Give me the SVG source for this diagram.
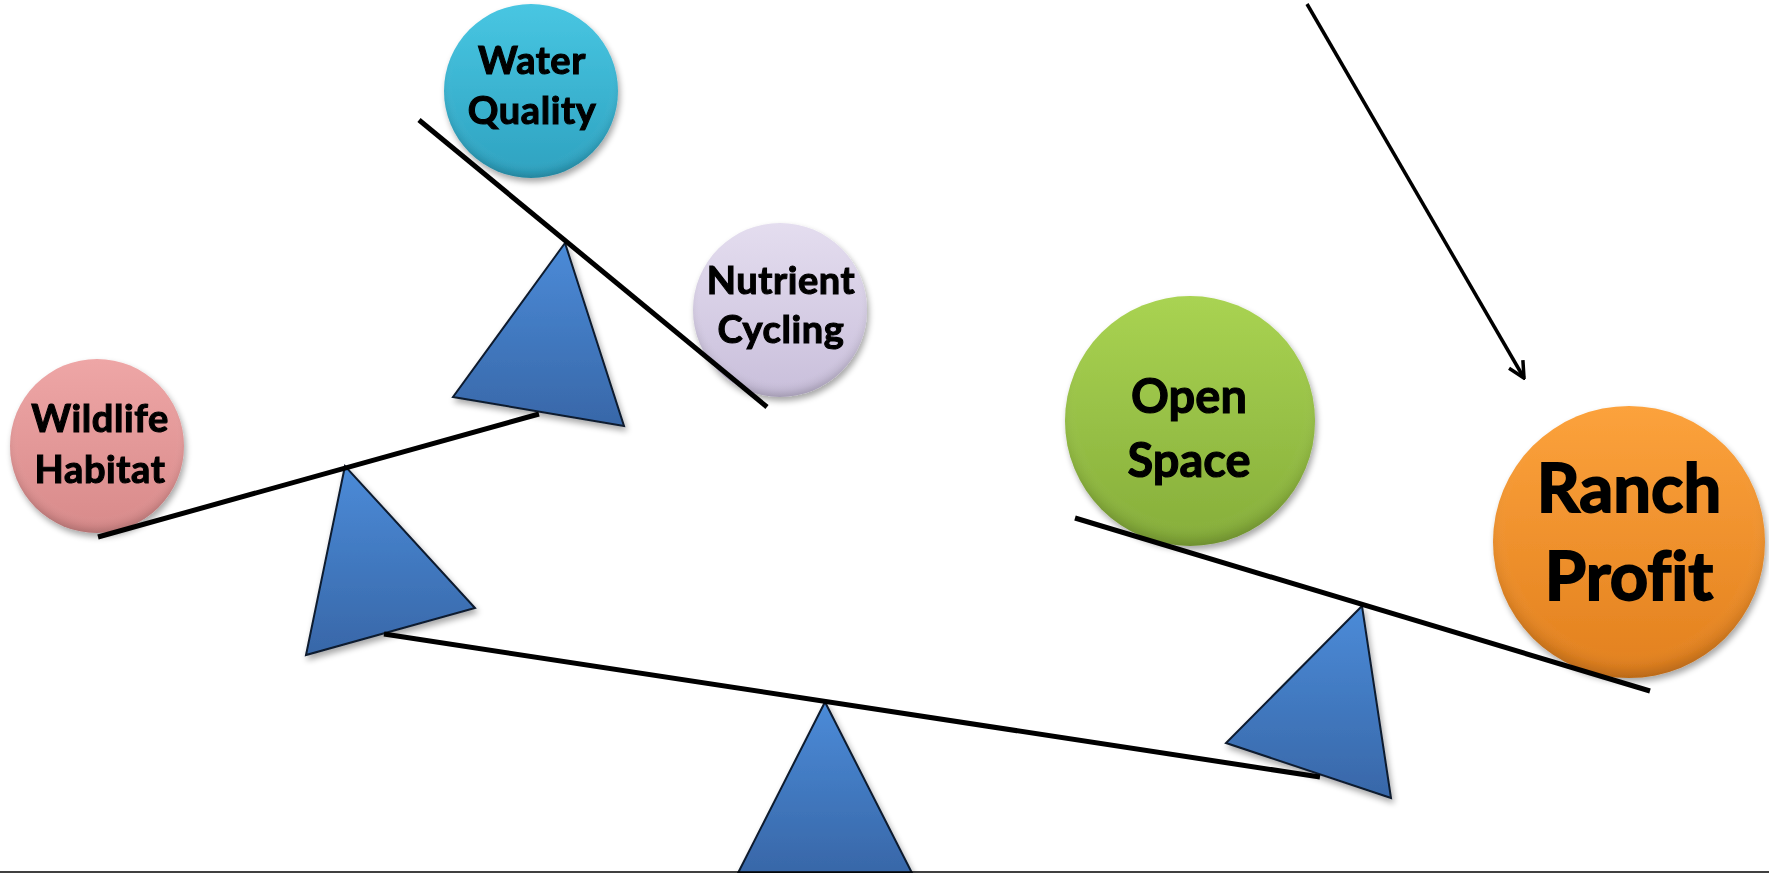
<svg xmlns="http://www.w3.org/2000/svg" width="1769" height="873" viewBox="0 0 1769 873">
<style>
.lbl{font-family:Lato,"Open Sans","Liberation Sans",sans-serif;font-weight:bold;fill:#000;stroke:#000;stroke-width:1.1;text-anchor:middle;font-variant-ligatures:none}
.sm{font-size:38px;letter-spacing:0.6px}
.big{stroke-width:1.8}
.beam{stroke:#000;stroke-width:5;fill:none}
.tri{stroke:#0d1a2e;stroke-width:2;stroke-linejoin:miter;fill:url(#gTri);filter:url(#sh)}
.btn{filter:url(#sh)}
</style>
<defs>
<filter id="sh" x="-20%" y="-20%" width="140%" height="140%">
<feGaussianBlur in="SourceAlpha" stdDeviation="3"/>
<feOffset dx="2" dy="4" result="b"/>
<feComponentTransfer><feFuncA type="linear" slope="0.35"/></feComponentTransfer>
<feMerge><feMergeNode/><feMergeNode in="SourceGraphic"/></feMerge>
</filter>
<linearGradient id="gTri" x1="0" y1="0" x2="0" y2="1"><stop offset="0" stop-color="#4b8bd8"/><stop offset="1" stop-color="#3867a8"/></linearGradient>
<linearGradient id="gW" x1="0" y1="0" x2="0" y2="1"><stop offset="0" stop-color="#48c6e2"/><stop offset="1" stop-color="#2ea2c0"/></linearGradient>
<linearGradient id="gN" x1="0" y1="0" x2="0" y2="1"><stop offset="0" stop-color="#e4ddef"/><stop offset="1" stop-color="#c9bfdb"/></linearGradient>
<linearGradient id="gH" x1="0" y1="0" x2="0" y2="1"><stop offset="0" stop-color="#eea6a6"/><stop offset="1" stop-color="#d88a8a"/></linearGradient>
<linearGradient id="gO" x1="0" y1="0" x2="0" y2="1"><stop offset="0" stop-color="#a9d352"/><stop offset="1" stop-color="#86ae3a"/></linearGradient>
<linearGradient id="gR" x1="0" y1="0" x2="0" y2="1"><stop offset="0" stop-color="#fca23c"/><stop offset="1" stop-color="#e2801e"/></linearGradient>
<radialGradient id="bevel" cx="0.5" cy="0.45" r="0.55"><stop offset="0.82" stop-color="#fff" stop-opacity="0"/><stop offset="0.93" stop-color="#000" stop-opacity="0.06"/><stop offset="1" stop-color="#000" stop-opacity="0.18"/></radialGradient>
<marker id="arr" viewBox="0 0 20 20" refX="18" refY="10" markerWidth="20" markerHeight="20" markerUnits="userSpaceOnUse" orient="auto">
<path d="M2,2 L18,10 L2,18" fill="none" stroke="#000" stroke-width="3.5"/>
</marker>
</defs>
<rect width="1769" height="873" fill="#fff"/>

<g id="water-quality" class="btn">
<circle cx="531" cy="91" r="87" fill="url(#gW)"/>
<circle cx="531" cy="91" r="87" fill="url(#bevel)"/>
<text class="lbl sm" x="532" y="74">Water</text>
<text class="lbl sm" x="532" y="124">Quality</text>
</g>
<g id="nutrient-cycling" class="btn">
<circle cx="780" cy="310" r="87" fill="url(#gN)"/>
<circle cx="780" cy="310" r="87" fill="url(#bevel)"/>
<text class="lbl sm" x="781" y="294">Nutrient</text>
<text class="lbl sm" x="781" y="343">Cycling</text>
</g>
<g id="wildlife-habitat" class="btn">
<circle cx="97" cy="446" r="87" fill="url(#gH)"/>
<circle cx="97" cy="446" r="87" fill="url(#bevel)"/>
<text class="lbl sm" x="100" y="432">Wildlife</text>
<text class="lbl sm" x="100" y="483">Habitat</text>
</g>
<g id="open-space" class="btn">
<circle cx="1190" cy="421" r="125" fill="url(#gO)"/>
<circle cx="1190" cy="421" r="125" fill="url(#bevel)"/>
<text class="lbl" x="1189" y="413" font-size="47">Open</text>
<text class="lbl" x="1189" y="477" font-size="47">Space</text>
</g>
<g id="ranch-profit" class="btn">
<circle cx="1629" cy="542" r="136" fill="url(#gR)"/>
<circle cx="1629" cy="542" r="136" fill="url(#bevel)"/>
<text class="lbl big" x="1629" y="512" font-size="67">Ranch</text>
<text class="lbl big" x="1629" y="600" font-size="67">Profit</text>
</g>

<g id="fulcrum-upper"><polygon class="tri" points="565,243 453,397 624,426"/></g>
<g id="fulcrum-middle"><polygon class="tri" points="345,466 306,655 475,608"/></g>
<g id="fulcrum-right"><polygon class="tri" points="1362,606 1226,743 1391,798"/></g>
<g id="fulcrum-base"><polygon class="tri" points="825,702 738,873 912,873"/></g>

<g id="connectors">
<line class="beam" x1="419" y1="120" x2="767" y2="407"/>
<line class="beam" x1="98" y1="537" x2="539" y2="414"/>
<line class="beam" x1="384" y1="634" x2="1320" y2="777"/>
<line class="beam" x1="1075" y1="518" x2="1650" y2="691"/>
<line x1="1307" y1="4" x2="1524" y2="378" stroke="#000" stroke-width="3.5" marker-end="url(#arr)"/>
<line x1="0" y1="872" x2="1769" y2="872" stroke="#000" stroke-width="1.5"/>
</g>
</svg>
